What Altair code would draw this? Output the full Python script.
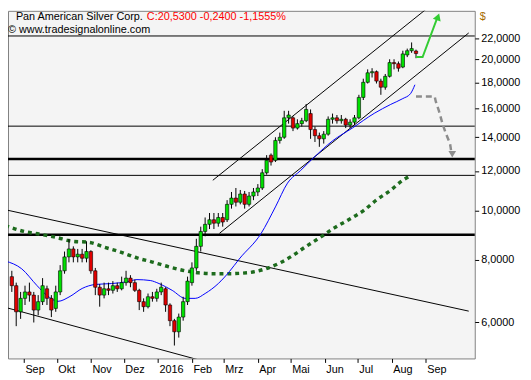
import altair as alt
import pandas as pd
from datetime import date, timedelta

# ---------------- candles (one candle every 4 days) ----------------
candle_start = date(2015, 8, 21)
candle_step_days = 4
opens = [7.4, 7.1, 6.3, 6.7, 6.9, 6.8, 6.35, 6.6, 7.0, 6.7, 6.4, 6.9, 7.6, 8.1, 8.4, 8.1, 8.2, 8.05, 8.3, 7.6,
         7.05, 6.8, 7.0, 6.95, 7.1, 7.0, 7.2, 7.35, 7.2, 6.95, 6.6, 6.45, 6.75, 6.7, 6.9, 7.0, 6.5, 6.05, 5.75, 6.15,
         6.6, 7.2, 7.7, 8.5, 9.1, 9.4, 9.6, 9.45, 9.7, 9.6, 10.3, 10.6, 10.4, 10.8, 10.3, 10.7, 10.9, 11.1, 11.9, 12.9,
         12.6, 13.8, 14.0, 15.3, 15.3, 14.6, 14.9, 15.1, 15.6, 14.5, 14.1, 13.9, 14.2, 15.2, 15.3, 15.1, 15.2, 14.8, 15.0, 15.3,
         16.8, 18.0, 18.8, 18.9, 18.1, 17.6, 18.5, 19.7, 19.6, 19.3, 20.4, 20.8, 20.77]
closes = [7.1, 6.3, 6.7, 6.9, 6.8, 6.35, 6.6, 7.1, 6.7, 6.35, 6.9, 7.6, 8.1, 8.4, 8.1, 8.2, 8.05, 8.3, 7.6, 7.05,
          6.8, 7.0, 6.95, 7.1, 7.0, 7.2, 7.35, 7.2, 6.95, 6.6, 6.45, 6.75, 6.7, 6.9, 7.05, 6.5, 6.05, 5.75, 6.15, 6.6,
          7.25, 7.7, 8.5, 9.1, 9.4, 9.6, 9.45, 9.7, 9.5, 10.3, 10.6, 10.4, 10.8, 10.3, 10.7, 10.9, 11.1, 11.9, 12.6, 12.5,
          13.8, 14.0, 15.3, 15.5, 14.6, 14.9, 15.1, 15.9, 14.5, 14.1, 13.9, 14.2, 15.2, 15.3, 15.1, 15.2, 14.8, 15.0, 15.3, 16.8,
          18.0, 18.8, 18.9, 18.1, 17.6, 18.5, 19.7, 19.6, 19.2, 20.5, 20.8, 21.0, 20.53]
highs = [7.6, 7.2, 6.9, 7.1, 7.2, 6.9, 6.8, 7.35, 7.1, 6.8, 7.1, 7.8, 8.3, 8.8, 8.5, 8.4, 8.4, 8.7, 8.35, 7.7,
         7.15, 7.2, 7.2, 7.25, 7.2, 7.4, 7.6, 7.45, 7.3, 7.0, 6.7, 6.85, 6.9, 7.0, 7.2, 7.05, 6.55, 6.1, 6.25, 6.75,
         7.4, 7.9, 8.8, 9.3, 9.7, 9.9, 9.9, 9.9, 9.9, 10.5, 10.9, 11.1, 11.0, 10.95, 10.9, 11.1, 11.3, 12.1, 12.9, 13.0,
         14.0, 14.3, 15.8, 15.8, 15.4, 15.2, 15.3, 16.3, 15.9, 14.7, 14.3, 14.4, 15.4, 15.6, 15.5, 15.5, 15.3, 15.2, 15.5, 17.0,
         18.3, 19.1, 19.2, 19.0, 18.3, 18.7, 20.0, 20.0, 19.8, 20.8, 21.0, 21.6, 20.9]
lows = [6.9, 5.9, 6.1, 6.5, 6.6, 6.0, 6.2, 6.5, 6.5, 6.15, 6.3, 6.8, 7.5, 7.9, 7.9, 7.9, 7.9, 7.9, 7.5, 6.8,
        6.45, 6.7, 6.8, 6.85, 6.9, 6.95, 7.1, 7.05, 6.9, 6.35, 6.3, 6.4, 6.6, 6.6, 6.8, 6.3, 5.9, 5.4, 5.6, 6.05,
        6.5, 7.1, 7.6, 8.3, 8.9, 9.2, 9.2, 9.3, 9.3, 9.5, 10.1, 10.2, 10.3, 10.1, 10.2, 10.5, 10.7, 11.0, 11.8, 12.3,
        12.5, 13.6, 13.9, 14.9, 14.4, 14.5, 14.7, 15.0, 13.9, 13.7, 13.4, 13.6, 14.1, 14.9, 14.9, 14.9, 14.6, 14.6, 14.8, 15.2,
        16.6, 17.9, 18.4, 17.9, 17.0, 17.4, 18.4, 19.1, 18.9, 19.2, 20.2, 20.6, 20.1]

# ---------------- moving averages ----------------
sma50_dates = ["2015-08-15", "2015-08-30", "2015-09-13", "2015-09-22", "2015-10-02", "2015-10-13", "2015-10-24",
               "2015-11-05", "2015-11-20", "2015-12-04", "2015-12-13", "2015-12-25", "2016-01-02", "2016-01-14",
               "2016-01-26", "2016-02-04", "2016-02-13", "2016-02-25", "2016-03-06", "2016-03-15", "2016-04-04",
               "2016-04-17", "2016-04-28", "2016-05-10", "2016-05-22", "2016-06-08", "2016-06-26", "2016-07-16",
               "2016-07-31", "2016-08-11", "2016-08-18", "2016-08-22"]
sma50_vals = [7.95, 7.67, 7.10, 6.79, 6.61, 6.76, 7.01, 7.14, 7.17, 7.23, 7.30, 7.27, 7.17, 6.95, 6.70, 6.70,
              6.85, 7.17, 7.57, 8.02, 9.02, 10.18, 11.35, 12.03, 12.76, 13.77, 14.60, 15.62, 16.27, 16.71, 17.09, 17.80]

sma200_dates = ["2015-08-15", "2015-09-01", "2015-09-16", "2015-09-30", "2015-10-15", "2015-10-30", "2015-11-13",
                "2015-11-28", "2015-12-13", "2015-12-27", "2016-01-11", "2016-01-26", "2016-02-07", "2016-02-20",
                "2016-03-04", "2016-03-22", "2016-04-08", "2016-04-21", "2016-05-02", "2016-05-14", "2016-05-28",
                "2016-06-10", "2016-06-23", "2016-07-06", "2016-07-18", "2016-07-31", "2016-08-11", "2016-08-19"]
sma200_vals = [9.35, 9.10, 8.98, 8.86, 8.70, 8.66, 8.47, 8.28, 8.06, 7.91, 7.74, 7.60, 7.53, 7.50, 7.50, 7.53,
               7.67, 7.88, 8.13, 8.47, 8.86, 9.26, 9.61, 10.0, 10.51, 10.99, 11.50, 11.76]

# ---------------- trend lines ----------------
trend_ids = ["ch_hi", "ch_hi", "ch_lo", "ch_lo", "dn_hi", "dn_hi", "dn_lo", "dn_lo"]
trend_dates = ["2016-02-20", "2016-09-06", "2016-02-26", "2016-10-10",
               "2015-08-15", "2016-10-10", "2015-08-15", "2016-02-11"]
trend_vals = [11.50, 25.64, 9.02, 22.56, 10.05, 6.32, 6.43, 5.03]

levels_thin = [22.25, 14.73, 11.76]
levels_thick = [12.67, 8.96]

# ---------------- scenario arrows ----------------
green_arrow_dates = ["2016-08-23", "2016-08-29", "2016-09-11"]
green_arrow_vals = [20.2, 20.2, 24.07]
green_head_date, green_head_val = "2016-09-12", 24.29

gray_arrow_dates = ["2016-08-23", "2016-09-09", "2016-09-10", "2016-09-13", "2016-09-16",
                    "2016-09-19", "2016-09-23", "2016-09-24"]
gray_arrow_vals = [16.87, 16.87, 16.49, 15.76, 14.93, 14.28, 13.59, 13.16]
gray_head_date, gray_head_val = "2016-09-25", 12.95

month_ticks = [(2015, 9), (2015, 10), (2015, 11), (2015, 12), (2016, 1), (2016, 2), (2016, 3),
               (2016, 4), (2016, 5), (2016, 6), (2016, 7), (2016, 8), (2016, 9)]
price_ticks = [6, 8, 10, 12, 14, 16, 18, 20, 22]

title_name = "Pan American Silver Corp."
title_quote = "C:20,5300 -0,2400 -1,1555%"
copyright_txt = "© www.tradesignalonline.com"
currency = "$"

# ---------------- tables ----------------
dates = [(candle_start + timedelta(days=candle_step_days * i)).isoformat() for i in range(len(opens))]
candles = pd.DataFrame({"date": dates, "open": opens, "high": highs, "low": lows, "close": closes})
candles["dir"] = ["up" if c >= o else "down" for o, c in zip(opens, closes)]
sma50 = pd.DataFrame({"date": sma50_dates, "v": sma50_vals})
sma200 = pd.DataFrame({"date": sma200_dates, "v": sma200_vals})
trends = pd.DataFrame({"id": trend_ids, "date": trend_dates, "v": trend_vals})
thin = pd.DataFrame({"v": levels_thin})
thick = pd.DataFrame({"v": levels_thick})
garrow = pd.DataFrame({"date": green_arrow_dates, "v": green_arrow_vals})
ghead = pd.DataFrame({"date": [green_head_date], "v": [green_head_val]})
rarrow = pd.DataFrame({"date": gray_arrow_dates, "v": gray_arrow_vals})
rhead = pd.DataFrame({"date": [gray_head_date], "v": [gray_head_val]})

FONT = "Liberation Sans"
X_SCALE = alt.Scale(type="utc", nice=False,
                    domain=[alt.DateTime(year=2015, month=8, date=22, utc=True),
                            alt.DateTime(year=2016, month=10, date=11, utc=True)])
Y_SCALE = alt.Scale(type="log", domain=[5.09, 24.96], nice=False)

X_AXIS = alt.Axis(
    values=[alt.DateTime(year=y, month=m, date=1, utc=True) for y, m in month_ticks],
    labelExpr="utcmonth(datum.value) == 0 ? '' + utcyear(datum.value) : "
              "['Jan','Feb','Mrz','Apr','Mai','Jun','Jul','Aug','Sep','Okt','Nov','Dez'][utcmonth(datum.value)]",
    labelAlign="left", labelOffset=1, tickSize=4, labelPadding=1, title=None,
    labelOverlap=False, labelFlush=False, grid=False, domain=False)
Y_AXIS = alt.Axis(
    orient="right", values=price_ticks,
    labelExpr="replace(format(datum.value, '.4f'), '.', ',')",
    tickSize=4, labelPadding=2, title=None, grid=False, domain=False, labelOverlap=False)


def X(field="date"):
    return alt.X(f"{field}:T", scale=X_SCALE, axis=X_AXIS, title=None)


def Y(field="v"):
    return alt.Y(f"{field}:Q", scale=Y_SCALE, axis=Y_AXIS, title=None)


hl_thin = alt.Chart(thin).mark_rule(color="black", strokeWidth=1).encode(y=Y())
hl_thick = alt.Chart(thick).mark_rule(color="black", strokeWidth=2.6).encode(y=Y())
trend = alt.Chart(trends).mark_line(color="black", strokeWidth=1, clip=True).encode(
    x=X(), y=Y(), detail="id:N")
ma200 = alt.Chart(sma200).mark_line(color="#1d6b1d", strokeWidth=3.5, strokeDash=[4, 4],
                                    interpolate="monotone", clip=True).encode(x=X(), y=Y())
ma50 = alt.Chart(sma50).mark_line(color="#0000ff", strokeWidth=1, interpolate="monotone",
                                  clip=True).encode(x=X(), y=Y())
wicks = alt.Chart(candles).mark_rule(color="black", strokeWidth=1, clip=True).encode(
    x=X(), y=Y("low"), y2="high:Q")
bodies = alt.Chart(candles).mark_bar(width=3.4, stroke="black", strokeWidth=0.6, clip=True).encode(
    x=X(), y=Y("open"), y2="close:Q",
    color=alt.Color("dir:N", scale=alt.Scale(domain=["up", "down"], range=["#00e000", "#e00000"]),
                    legend=None))
green_line = alt.Chart(garrow).mark_line(color="#33cc33", strokeWidth=2, clip=True).encode(x=X(), y=Y())
green_tip = alt.Chart(ghead).mark_point(shape="triangle-up", filled=True, size=70, opacity=1,
                                        color="#33cc33", angle=20).encode(x=X(), y=Y())
gray_line = alt.Chart(rarrow).mark_line(color="#8c8c8c", strokeWidth=2.5, strokeDash=[6, 4],
                                        clip=True).encode(x=X(), y=Y())
gray_tip = alt.Chart(rhead).mark_point(shape="triangle-down", filled=True, size=60, opacity=1,
                                       color="#8c8c8c").encode(x=X(), y=Y())


def label(txt, x, y, color, size=11):
    return alt.Chart(alt.Data(values=[{}])).mark_text(
        text=txt, align="left", baseline="alphabetic", font=FONT, fontSize=size, color=color
    ).encode(x=alt.value(x), y=alt.value(y))


t1 = label(title_name, 8, 9, "black")
t2 = label(title_quote, 141, 9, "#ff0000")
t3 = label(copyright_txt, 0, 22, "black")
t4 = label(currency, 479, 9, "#a66a00")

chart = alt.layer(
    hl_thin, hl_thick, trend, ma200, ma50, wicks, bodies,
    green_line, green_tip, gray_line, gray_tip, t1, t2, t3, t4
).properties(
    width=474, height=353,
    autosize=alt.AutoSizeParams(type="none"),
    padding={"left": 0, "top": 0, "right": 49, "bottom": 19},
    background="white",
).configure_view(
    fill="#f4f4f4", stroke="#7f7f7f", strokeWidth=1
).configure_axis(
    labelFont=FONT, labelFontSize=11, labelColor="#000000", tickColor="#000000", tickWidth=1
)

chart.save("out.html", embed_options={"renderer": "svg", "actions": False})
